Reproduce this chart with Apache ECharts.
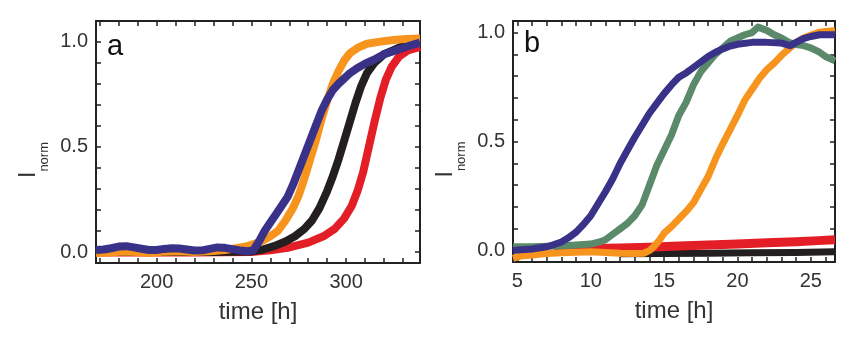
<!DOCTYPE html>
<html>
<head>
<meta charset="utf-8">
<script src="https://cdn.jsdelivr.net/npm/echarts@6/dist/echarts.min.js"></script>
<style>
html,body{margin:0;padding:0;background:#fff;}
#chart{width:856px;height:339px;}
</style>
</head>
<body>
<div id="chart"></div>
<script>
// ---------- Panel a (time in h, normalized intensity) ----------
const aXLabels = [200, 250, 300];
const aXTicks = [170,180,190,200,210,220,230,240,250,260,270,280,290,300,310,320,330];
const yLabels = [0, 0.5, 1.0];
const yTicks = [0,0.1,0.2,0.3,0.4,0.5,0.6,0.7,0.8,0.9,1.0];

const aBlue = [[168,0.010],[172,0.012],[176,0.018],[180,0.026],[184,0.028],[188,0.022],[192,0.016],[196,0.010],[200,0.010],[204,0.015],[208,0.018],[212,0.017],[216,0.012],[220,0.007],[224,0.008],[228,0.015],[232,0.022],[236,0.020],[240,0.014],[244,0.008],[248,0.004],[251,0.008],[254,0.05],[257,0.1],[260,0.14],[263,0.18],[266,0.22],[269,0.26],[272,0.32],[275,0.39],[278,0.46],[281,0.53],[284,0.6],[287,0.67],[290,0.725],[293,0.77],[296,0.8],[299,0.825],[302,0.85],[306,0.875],[310,0.895],[315,0.915],[320,0.94],[325,0.955],[330,0.97],[335,0.985],[339,0.995]];
const aOrange = [[168,-0.005],[175,-0.002],[182,0.003],[190,0.0],[196,-0.004],[204,0.002],[212,0.004],[220,0.0],[228,0.004],[236,0.01],[242,0.018],[248,0.028],[252,0.04],[256,0.055],[260,0.075],[264,0.1],[268,0.15],[272,0.21],[275,0.27],[278,0.35],[281,0.44],[284,0.53],[287,0.63],[290,0.72],[293,0.8],[296,0.86],[299,0.91],[302,0.945],[306,0.97],[311,0.99],[318,1.0],[325,1.008],[332,1.013],[339,1.015]];
const aBlack = [[168,0.0],[200,0.0],[230,0.0],[250,0.003],[256,0.012],[262,0.028],[268,0.05],[273,0.075],[278,0.11],[282,0.15],[286,0.21],[290,0.29],[293,0.36],[296,0.44],[299,0.53],[302,0.62],[305,0.71],[308,0.79],[311,0.85],[315,0.9],[320,0.94],[325,0.96],[330,0.98],[334,1.0],[339,1.0]];
const aRed = [[168,-0.002],[220,-0.002],[250,0.0],[260,0.008],[270,0.022],[280,0.045],[288,0.075],[294,0.11],[299,0.16],[303,0.22],[306,0.29],[309,0.38],[312,0.5],[315,0.62],[318,0.73],[321,0.82],[324,0.88],[328,0.93],[333,0.96],[339,0.975]];

// ---------- Panel b ----------
const bXLabels = [5, 10, 15, 20, 25];
const bXTicks = [5,6,7,8,9,10,11,12,13,14,15,16,17,18,19,20,21,22,23,24,25,26];

const bBlue = [[4.7,0.0],[5,0.003],[6,0.008],[7,0.018],[7.5,0.028],[8,0.04],[8.5,0.06],[9,0.085],[9.5,0.12],[10,0.16],[10.5,0.215],[11,0.27],[11.5,0.33],[12,0.4],[12.5,0.46],[13,0.52],[13.5,0.575],[14,0.63],[14.5,0.675],[15,0.72],[15.5,0.76],[16,0.795],[16.5,0.815],[17,0.84],[17.5,0.865],[18,0.89],[18.5,0.91],[19,0.925],[19.5,0.938],[20,0.946],[21,0.955],[22,0.955],[23,0.952],[23.6,0.94],[24,0.955],[24.5,0.972],[25,0.982],[25.6,0.99],[26.65,0.99]];
const bGreen = [[4.7,0.018],[6,0.018],[7,0.02],[8,0.022],[9,0.026],[10,0.03],[10.6,0.04],[11,0.05],[11.5,0.075],[12,0.1],[12.5,0.125],[13,0.16],[13.5,0.21],[14,0.3],[14.5,0.39],[15,0.46],[15.5,0.53],[16,0.62],[16.5,0.68],[17,0.76],[17.5,0.82],[18,0.86],[18.5,0.9],[19,0.93],[19.5,0.96],[20,0.975],[20.5,0.99],[21,1.0],[21.4,1.025],[22,1.01],[22.5,0.99],[23,0.975],[23.5,0.955],[24,0.945],[24.5,0.94],[25,0.93],[25.6,0.91],[26,0.89],[26.65,0.87]];
const bOrange = [[4.7,-0.035],[5.2,-0.025],[6,-0.02],[7,-0.013],[8,-0.01],[9,-0.007],[10,-0.005],[11,-0.008],[12,-0.012],[13,-0.013],[13.6,-0.012],[14,0.0],[14.3,0.018],[14.7,0.05],[15,0.08],[15.5,0.11],[16,0.145],[16.5,0.18],[17,0.22],[17.5,0.28],[18,0.34],[18.5,0.42],[19,0.49],[19.5,0.555],[20,0.62],[20.5,0.69],[21,0.74],[21.5,0.79],[22,0.83],[22.5,0.86],[23,0.895],[23.5,0.925],[24,0.954],[24.5,0.975],[25,0.988],[25.5,1.0],[26,1.005],[26.65,1.008]];
const bRed = [[7.5,0.005],[9,0.008],[10,0.01],[12,0.012],[14,0.016],[16,0.021],[18,0.026],[20,0.031],[22,0.036],[24,0.041],[25.5,0.046],[26.65,0.05]];
const bBlack = [[12,-0.014],[15,-0.013],[18,-0.012],[21,-0.01],[24,-0.008],[26.65,-0.005]];

const C = {blue:'#3a3189', orange:'#f7941d', black:'#231f20', red:'#e31e26', green:'#5b8a6b'};
const FONT = '"Liberation Sans", Arial, sans-serif';
const GA = {left:96, top:21, width:324, height:242};
const GB = {left:513, top:21, width:322, height:241};

function tickStyle(values, inside) {
  return {show:true, inside:inside, length:5, customValues:values.slice(), lineStyle:{color:'#222', width:1.5}};
}
// main axis (bottom) or mirrored axis (moved to the top edge of an overlay grid)
function makeX(gi, min, max, labels, ticks, mirrorOffset) {
  const ax = {
    type:'value', gridIndex:gi, min:min, max:max, show:true, position:'bottom',
    axisLine:{show:true, onZero:false, lineStyle:{color:'#222', width:2}},
    splitLine:{show:false}
  };
  if (mirrorOffset == null) {
    ax.axisTick = tickStyle(ticks, true);
    ax.axisLabel = {show:true, customValues:labels.slice(), margin:9, fontSize:20, color:'#333', fontFamily:FONT};
    ax.name = 'time [h]'; ax.nameLocation = 'middle'; ax.nameGap = 37;
    ax.nameTextStyle = {fontSize:24, color:'#333', fontFamily:FONT};
  } else {
    ax.offset = mirrorOffset;
    ax.axisTick = tickStyle(ticks, false);
    ax.axisLabel = {show:false};
  }
  return ax;
}
function makeY(gi, min, max, mirrorOffset) {
  const ax = {
    type:'value', gridIndex:gi, min:min, max:max, show:true, position:'left',
    axisLine:{show:true, onZero:false, lineStyle:{color:'#222', width:2}},
    splitLine:{show:false}
  };
  if (mirrorOffset == null) {
    ax.axisTick = tickStyle(yTicks, true);
    ax.axisLabel = {show:true, customValues:yLabels.slice(), margin:8, fontSize:20, color:'#333', fontFamily:FONT,
      formatter:function(v){return v.toFixed(1);}};
    ax.name = '{i|I}{s|norm}'; ax.nameLocation = 'middle'; ax.nameRotate = 90; ax.nameGap = 45;
    ax.nameTextStyle = {padding:[0,36,0,0], fontFamily:FONT, color:'#333',
      rich:{i:{fontSize:23, color:'#333', fontFamily:FONT, padding:[0,0,11,0], verticalAlign:'bottom'},
            s:{fontSize:13, color:'#333', fontFamily:FONT, verticalAlign:'bottom'}}};
  } else {
    ax.offset = mirrorOffset;
    ax.axisTick = tickStyle(yTicks, false);
    ax.axisLabel = {show:false};
  }
  return ax;
}
function line(data, color, xi, yi, w) {
  return {type:'line', data:data, xAxisIndex:xi, yAxisIndex:yi, showSymbol:false, symbol:'none',
    smooth:false, lineStyle:{color:color, width:w, cap:'butt', join:'round'}, silent:true, animation:false};
}
// invisible copy bound to the mirror axes so that they get a data extent and draw their ticks
function ghost(data, xi, yi) {
  return {type:'line', data:data, xAxisIndex:xi, yAxisIndex:yi, showSymbol:false, symbol:'none',
    lineStyle:{opacity:0, width:0}, silent:true, animation:false, tooltip:{show:false}};
}

const option = {
  animation:false,
  backgroundColor:'#fff',
  grid:[
    Object.assign({show:false}, GA),
    Object.assign({show:false}, GB),
    Object.assign({show:false}, GA),
    Object.assign({show:false}, GB)
  ],
  xAxis:[
    makeX(0, 168, 339, aXLabels, aXTicks),
    makeX(2, 168, 339, aXLabels, aXTicks, -GA.height),
    makeX(1, 4.7, 26.65, bXLabels, bXTicks),
    makeX(3, 4.7, 26.65, bXLabels, bXTicks, -GB.height)
  ],
  yAxis:[
    makeY(0, -0.052, 1.098),
    makeY(2, -0.052, 1.098, -GA.width),
    makeY(1, -0.052, 1.053),
    makeY(3, -0.052, 1.053, -GB.width)
  ],
  graphic:[
    {type:'text', left:107, top:32, style:{text:'a', fontSize:29, fill:'#111', fontFamily:FONT}},
    {type:'text', left:524, top:29, style:{text:'b', fontSize:29, fill:'#111', fontFamily:FONT}}
  ],
  series:[
    line(aRed, C.red, 0, 0, 8),
    line(aBlack, C.black, 0, 0, 8),
    line(aOrange, C.orange, 0, 0, 8),
    line(aBlue, C.blue, 0, 0, 8),
    line(bBlack, C.black, 2, 2, 7),
    line(bRed, C.red, 2, 2, 9),
    line(bOrange, C.orange, 2, 2, 7),
    line(bGreen, C.green, 2, 2, 7),
    line(bBlue, C.blue, 2, 2, 7),
    ghost(aBlue, 1, 1),
    ghost(bBlue, 3, 3)
  ]
};
const chart = echarts.init(document.getElementById('chart'), null, {renderer:'canvas'});
chart.setOption(option);
</script>
</body>
</html>
